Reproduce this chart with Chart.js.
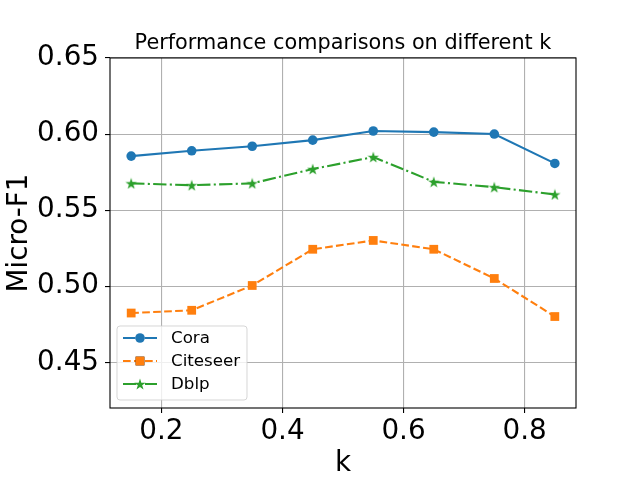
<!DOCTYPE html>
<html>
<head>
<meta charset="utf-8">
<script src="https://cdn.jsdelivr.net/npm/chart.js@4"></script>
<style>
  body { margin: 0; background: #fff; }
  canvas { display: block; }
</style>
</head>
<body>
<canvas id="chart" width="640" height="480"></canvas>
<script>
// values
const kValues = [0.15, 0.25, 0.35, 0.45, 0.55, 0.65, 0.75, 0.85];
const cora = [0.5855, 0.589, 0.592, 0.596, 0.602, 0.6013, 0.600, 0.5807];
const citeseer = [0.4824, 0.4842, 0.5005, 0.5243, 0.5301, 0.5243, 0.5051, 0.4801];
const dblp = [0.5676, 0.5664, 0.5676, 0.577, 0.5849, 0.5686, 0.5651, 0.5603];
const xTicks = [0.2, 0.4, 0.6, 0.8];
const yTicks = [0.45, 0.50, 0.55, 0.60, 0.65];

const FONT = "'DejaVu Sans', sans-serif";

// filled five point star, like the matplotlib '*' marker
function makeStar(color, size) {
    const c = document.createElement('canvas');
    c.width = size;
    c.height = size;
    const ctx = c.getContext('2d');
    const cx = size / 2, cy = size / 2 + size * 0.05;
    const outer = size / 2, inner = outer * 0.38;
    ctx.beginPath();
    for (let i = 0; i < 10; i++) {
        const r = i % 2 === 0 ? outer : inner;
        const a = -Math.PI / 2 + i * Math.PI / 5;
        const px = cx + r * Math.cos(a), py = cy + r * Math.sin(a);
        if (i === 0) ctx.moveTo(px, py); else ctx.lineTo(px, py);
    }
    ctx.closePath();
    ctx.fillStyle = color;
    ctx.fill();
    return c;
}

const toPoints = (ys) => ys.map((y, i) => ({ x: kValues[i], y: y }));

// centre the title over the plot area, not the whole canvas
const titleOverPlot = {
    id: 'titleOverPlot',
    afterLayout(chart) {
        if (chart.titleBlock) {
            chart.titleBlock.left = chart.chartArea.left;
            chart.titleBlock.right = chart.chartArea.right;
        }
    }
};

// frame on all four sides
const framePlugin = {
    id: 'frame',
    afterDatasetsDraw(chart) {
        const { ctx, chartArea: a } = chart;
        ctx.save();
        ctx.strokeStyle = '#000';
        ctx.lineWidth = 1.1;
        ctx.strokeRect(a.left, a.top, a.right - a.left, a.bottom - a.top);
        ctx.restore();
    }
};

// legend drawn inside the plot area, lower left
const insideLegend = {
    id: 'insideLegend',
    afterDraw(chart) {
        const { ctx } = chart;
        const x0 = 117, y0 = 326, w = 130, h = 74;
        ctx.save();
        ctx.beginPath();
        ctx.roundRect(x0, y0, w, h, 3);
        ctx.fillStyle = 'rgba(255,255,255,0.8)';
        ctx.fill();
        ctx.strokeStyle = 'rgba(204,204,204,0.8)';
        ctx.lineWidth = 1;
        ctx.stroke();

        chart.data.datasets.forEach((ds, i) => {
            const y = 338 + i * 23;
            ctx.beginPath();
            ctx.setLineDash(ds.borderDash || []);
            ctx.strokeStyle = ds.borderColor;
            ctx.lineWidth = ds.borderWidth;
            ctx.moveTo(123, y);
            ctx.lineTo(157, y);
            ctx.stroke();
            ctx.setLineDash([]);
            if (ds.pointStyle instanceof HTMLCanvasElement) {
                const s = ds.pointStyle.width;
                ctx.drawImage(ds.pointStyle, 140 - s / 2, y - s / 2);
            } else {
                Chart.helpers.drawPoint(ctx, {
                    pointStyle: ds.pointStyle,
                    radius: ds.pointRadius,
                    rotation: 0,
                    borderWidth: 0
                }, 140, y);
                ctx.fillStyle = ds.borderColor;
                ctx.fill();
            }
            ctx.fillStyle = '#000';
            ctx.font = '16.7px ' + FONT;
            ctx.textBaseline = 'middle';
            ctx.textAlign = 'left';
            ctx.fillText(ds.label, 171, y + 1);
        });
        ctx.restore();
    }
};

new Chart(document.getElementById('chart'), {
    type: 'line',
    data: {
        datasets: [
            {
                label: 'Cora',
                data: toPoints(cora),
                borderColor: '#1f77b4',
                backgroundColor: '#1f77b4',
                borderWidth: 2.1,
                pointStyle: 'circle',
                pointRadius: 4.8,
                pointBorderWidth: 0
            },
            {
                label: 'Citeseer',
                data: toPoints(citeseer),
                borderColor: '#ff7f0e',
                backgroundColor: '#ff7f0e',
                borderWidth: 2.1,
                borderDash: [7.7, 3.3],
                pointStyle: 'rect',
                pointRadius: 6.2,
                pointBorderWidth: 0
            },
            {
                label: 'Dblp',
                data: toPoints(dblp),
                borderColor: '#2ca02c',
                backgroundColor: '#2ca02c',
                borderWidth: 2.1,
                borderDash: [13.3, 3.3, 2.1, 3.3],
                pointStyle: makeStar('#2ca02c', 12),
                pointRadius: 5,
                pointBorderWidth: 0
            }
        ]
    },
    options: {
        responsive: false,
        animation: false,
        devicePixelRatio: 1,
        layout: { padding: { left: 0, right: 64, top: 0, bottom: 0 } },
        plugins: {
            legend: { display: false },
            tooltip: { enabled: false },
            title: {
                display: true,
                text: 'Performance comparisons on different k',
                color: '#000',
                font: { family: FONT, size: 20.8, weight: 'normal' },
                padding: { top: 31, bottom: 2 }
            }
        },
        scales: {
            x: {
                type: 'linear',
                min: 0.115,
                max: 0.885,
                afterBuildTicks: (scale) => { scale.ticks = xTicks.map(v => ({ value: v })); },
                afterFit: (scale) => { scale.height = 72; },
                ticks: {
                    color: '#000',
                    font: { family: FONT, size: 27.8 },
                    padding: 2,
                    maxRotation: 0,
                    callback: (v) => v.toFixed(1)
                },
                grid: { color: '#b0b0b0', lineWidth: 1.1, tickColor: '#000', tickLength: 5 },
                border: { display: false },
                title: {
                    display: true,
                    text: 'k',
                    color: '#000',
                    font: { family: FONT, size: 27.8 },
                    padding: { top: 0, bottom: 0 }
                }
            },
            y: {
                min: 0.42,
                max: 0.65,
                afterBuildTicks: (scale) => { scale.ticks = yTicks.map(v => ({ value: v })); },
                afterFit: (scale) => { scale.width = 110; },
                ticks: {
                    color: '#000',
                    font: { family: FONT, size: 27.8 },
                    padding: 6,
                    callback: (v) => v.toFixed(2)
                },
                grid: { color: '#b0b0b0', lineWidth: 1.1, tickColor: '#000', tickLength: 5 },
                border: { display: false },
                title: {
                    display: true,
                    text: 'Micro-F1',
                    color: '#000',
                    font: { family: FONT, size: 27.8 },
                    padding: { top: 3, bottom: 0 }
                }
            }
        }
    },
    plugins: [titleOverPlot, framePlugin, insideLegend]
});
</script>
</body>
</html>
